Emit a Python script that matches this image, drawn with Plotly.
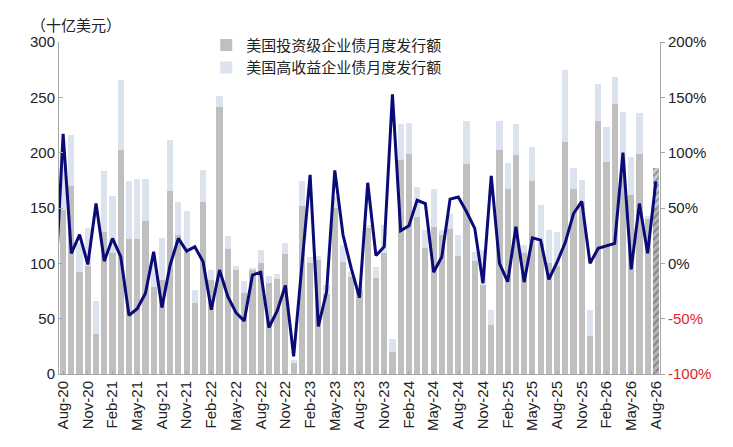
import plotly.graph_objects as go

# month labels Aug-20 .. Aug-26
months = []
names = ["Jan", "Feb", "Mar", "Apr", "May", "Jun", "Jul", "Aug", "Sep", "Oct", "Nov", "Dec"]
for yr in range(20, 27):
    for m in names:
        months.append(f"{m}-{yr}")
months = months[months.index("Aug-20"):months.index("Aug-26") + 1]

# 美国投资级企业债月度发行额 (十亿美元)
ig = [148, 170, 92, 98, 36, 128, 109, 202, 122, 122, 138, 79,
      85, 165, 126, 109, 64, 155, 85, 241, 113, 94, 73, 94,
      100, 82, 86, 108, 10, 152, 100, 103, 72, 150, 101, 88,
      75, 132, 87, 109, 20, 193, 199, 142, 114, 133, 126, 131,
      107, 190, 102, 80, 44, 202, 167, 198, 109, 174, 118, 100,
      98, 210, 167, 155, 34, 229, 192, 244, 180, 162, 199, 140,
      150]
# 投资级 + 高收益 合计
total = [200, 216, 118, 132, 66, 183, 161, 266, 174, 176, 176, 100,
         123, 211, 155, 147, 76, 184, 94, 251, 125, 98, 84, 95,
         112, 89, 90, 118, 13, 174, 106, 107, 80, 160, 117, 92,
         80, 135, 97, 135, 32, 226, 227, 169, 130, 167, 130, 145,
         126, 229, 110, 112, 58, 229, 191, 226, 117, 205, 153, 130,
         128, 275, 186, 175, 58, 262, 223, 268, 237, 196, 236, 143,
         186]
hy = [t - g for t, g in zip(total, ig)]

# 同比 (%), first value is Jul-20 (outside the plotted range)
yoy = [-30,
       117, 9, 26, -1, 54, 2, 22.5, 6, -47, -41, -27, 10.5,
       -40, -1.5, 22.5, 11, 15, 1.5, -42, -6, -30, -44.6, -52, -10.6,
       -8, -58, -43, -20, -84, -2, 80, -57, -26, 84, 25.6, -4.5,
       -31, 72.8, 7, 15, 152.7, 29.5, 34, 57, 54, -8, 6, 58,
       60, 46.6, 31.6, -18, 79, 0, -16.6, 33, -17, 23, 21, -14.5,
       1, 19, 45, 56, 0, 13.6, 16, 18, 100, -5.4, 54, 9,
       74]

n = len(months)
xs = list(range(n))
hatch = [""] * (n - 1) + ["/"]

FONT = "Arial, Liberation Sans, Noto Sans CJK SC, sans-serif"

fig = go.Figure()
fig.add_trace(go.Bar(
    x=xs, y=ig, name="美国投资级企业债月度发行额",
    marker=dict(color=["#BFBFBF"] * (n - 1) + ["#B4B4B4"], line_width=0,
                pattern=dict(shape=hatch, size=5, solidity=0.3)),
))
fig.add_trace(go.Bar(
    x=xs, y=hy, name="美国高收益企业债月度发行额",
    marker=dict(color=["#DCE3EE"] * (n - 1) + ["#C4CAD3"], line_width=0,
                pattern=dict(shape=hatch, size=5, solidity=0.3)),
))
fig.add_trace(go.Scatter(
    x=list(range(-1, n)), y=yoy, yaxis="y2", mode="lines",
    line=dict(color="#0A0A78", width=3), showlegend=False,
))

right_vals = [-100, -50, 0, 50, 100, 150, 200]
right_text = ['<span style="color:#E0262A">-100%</span>',
              '<span style="color:#E0262A">-50%</span>',
              "0%", "50%", "100%", "150%", "200%"]

# the page body adds 8px on the left/top, margins are set to absorb it
fig.update_layout(
    width=733, height=447,
    margin=dict(l=51, r=81, t=34, b=81),
    barmode="stack", bargap=0.25,
    plot_bgcolor="white", paper_bgcolor="white",
    font=dict(family=FONT, size=15, color="#222222"),
    legend=dict(x=0.245, y=1.04, xanchor="left", yanchor="top",
                traceorder="normal", font=dict(size=15),
                bgcolor="rgba(0,0,0,0)", tracegroupgap=2, itemwidth=30),
    xaxis=dict(range=[-0.5, n - 0.5], tickvals=xs[::3], ticktext=months[::3],
               tickangle=-90, tickfont=dict(size=15), showgrid=False,
               showline=True, linecolor="#A6A6A6", ticks="inside",
               ticklen=3, tickcolor="#A6A6A6", zeroline=False),
    yaxis=dict(range=[0, 300], dtick=50, showgrid=False, showline=True,
               linecolor="#A6A6A6", ticks="inside", ticklen=4,
               tickcolor="#A6A6A6", zeroline=False),
    yaxis2=dict(range=[-100, 200], overlaying="y", side="right",
                tickvals=right_vals, ticktext=right_text, showgrid=False,
                showline=True, linecolor="#A6A6A6", ticks="outside",
                ticklen=4, tickcolor="#A6A6A6", zeroline=False),
    annotations=[dict(text="（十亿美元）", xref="paper", yref="paper",
                      x=-0.05, y=1.08, xanchor="left", yanchor="top",
                      showarrow=False, font=dict(size=15))],
)

fig.write_html("out.html")
